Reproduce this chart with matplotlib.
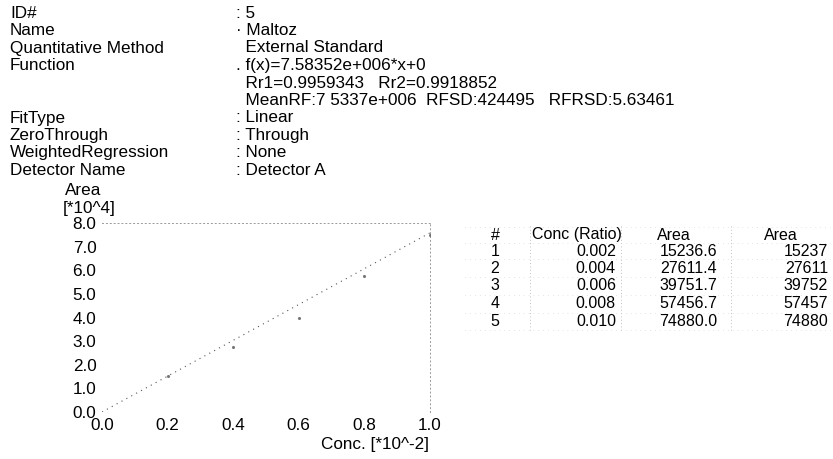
import matplotlib
matplotlib.use("Agg")
import matplotlib.pyplot as plt

plt.rcParams['font.family'] = ['Liberation Sans', 'DejaVu Sans']

# Header information
info_labels = ["ID#", "Name", "Quantitative Method", "Function", "", "",
               "FitType", "ZeroThrough", "WeightedRegression", "Detector Name"]
info_values = [": 5", "· Maltoz", "  External Standard", ". f(x)=7.58352e+006*x+0",
               "  Rr1=0.9959343   Rr2=0.9918852",
               "  MeanRF:7 5337e+006  RFSD:424495   RFRSD:5.63461",
               ": Linear", ": Through", ": None", ": Detector A"]

# Calibration data
row_ids = ["1", "2", "3", "4", "5"]
conc_ratio = [0.002, 0.004, 0.006, 0.008, 0.010]
area = [15236.6, 27611.4, 39751.7, 57456.7, 74880.0]
area_round = [15237, 27611, 39752, 57457, 74880]
slope = 7.58352e6

W, H = 833, 459
fig = plt.figure(figsize=(W / 100, H / 100), dpi=100)


def fx(x):
    return x / W


def fy(y):
    return 1 - y / H


fs = 12.3
fs_tab = 11.5
# header block
for i, (lab, val) in enumerate(zip(info_labels, info_values)):
    y = 13 + i * 17.5
    if lab:
        fig.text(fx(10), fy(y), lab, fontsize=fs, va='center', ha='left')
    fig.text(fx(236), fy(y), val, fontsize=fs, va='center', ha='left')

# calibration plot
ax = fig.add_axes([fx(102), fy(412), fx(430) - fx(102), fy(223) - fy(412)])
xs = [c * 100 for c in conc_ratio]           # [*10^-2]
ys = [a / 1e4 for a in area]                 # [*10^4]
ax.plot([0, 1.0], [0, slope * 0.01 / 1e4], color='#555555', lw=0.8,
        linestyle=(0, (1, 4)))
ax.scatter(xs, ys, s=1.5, color='#777777', zorder=3)
ax.set_xlim(0, 1.0)
ax.set_ylim(0, 8.0)
ax.set_xticks([0, 0.2, 0.4, 0.6, 0.8, 1.0])
ax.set_xticklabels(["0.0", "0.2", "0.4", "0.6", "0.8", "1.0"])
ax.set_yticks([i * 1.0 for i in range(9)])
ax.set_yticklabels([f"{i:.1f}" for i in range(9)])
ax.tick_params(length=0, labelsize=fs, pad=4)
for side in ['left', 'bottom']:
    ax.spines[side].set_visible(False)
for side in ['top', 'right']:
    ax.spines[side].set_color('#999999')
    ax.spines[side].set_linestyle((0, (1, 3)))
    ax.spines[side].set_linewidth(0.7)
ax.patch.set_alpha(0)

fig.text(fx(65), fy(191), "Area", fontsize=fs, va='center', ha='left')
fig.text(fx(63), fy(209), "[*10^4]", fontsize=fs, va='center', ha='left')
fig.text(fx(429), fy(445), "Conc. [*10^-2]", fontsize=fs, va='center', ha='right')

# data table
hdr_y = 235
fig.text(fx(495), fy(hdr_y), "#", fontsize=fs_tab, va='center', ha='center')
fig.text(fx(532), fy(hdr_y), "Conc (Ratio)", fontsize=fs_tab, va='center', ha='left')
fig.text(fx(674), fy(hdr_y), "Area", fontsize=fs_tab, va='center', ha='center')
fig.text(fx(781), fy(hdr_y), "Area", fontsize=fs_tab, va='center', ha='center')
for i in range(len(row_ids)):
    y = 251 + i * 17.5
    fig.text(fx(495), fy(y), row_ids[i], fontsize=fs_tab, va='center', ha='center')
    fig.text(fx(616), fy(y), f"{conc_ratio[i]:.3f}", fontsize=fs_tab, va='center', ha='right')
    fig.text(fx(717), fy(y), f"{area[i]:.1f}", fontsize=fs_tab, va='center', ha='right')
    fig.text(fx(828), fy(y), f"{area_round[i]}", fontsize=fs_tab, va='center', ha='right')

# faint dotted table rules
for xv in [530, 621, 731]:
    fig.add_artist(plt.Line2D([fx(xv), fx(xv)], [fy(226), fy(330)], color='#aaaaaa',
                              lw=0.6, linestyle=(0, (1, 3))))
for yv in [227, 243, 259, 277, 295, 313, 330]:
    fig.add_artist(plt.Line2D([fx(465), fx(830)], [fy(yv), fy(yv)], color='#cccccc',
                              lw=0.5, linestyle=(0, (1, 6))))

fig.savefig("out.png", dpi=100, facecolor='white')
